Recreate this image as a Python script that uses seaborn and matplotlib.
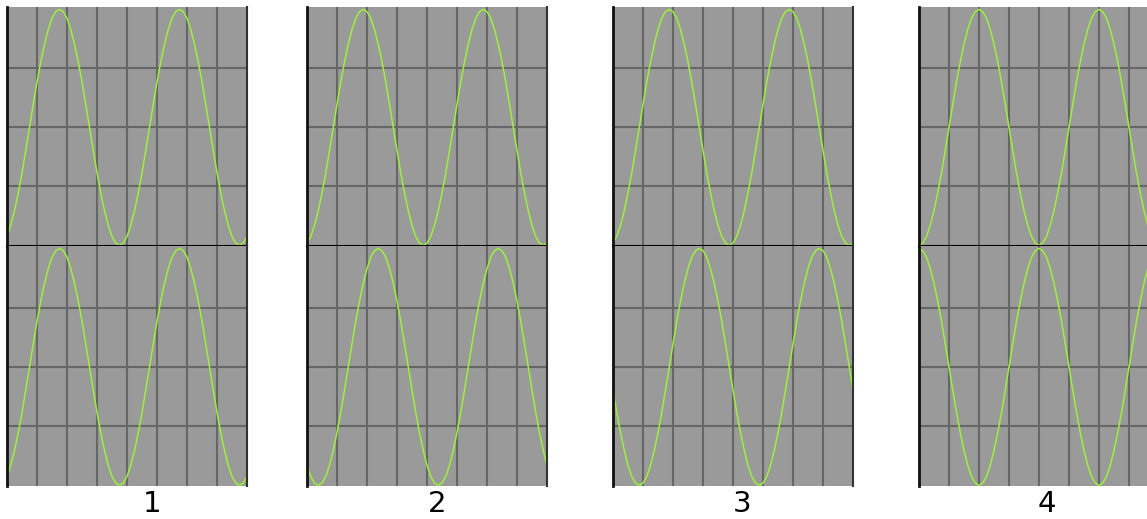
import numpy as np
import matplotlib
matplotlib.use("Agg")
import matplotlib.pyplot as plt
import seaborn as sns

# sample positions along each strip, in grid cells (8 cells wide)
x_pos = np.linspace(0, 8, 65)

# reference wave (upper strip) of each panel, in grid rows (0..4)
top_wave_1 = [0.15, 0.34, 0.59, 0.89, 1.23, 1.61, 2.0, 2.39, 2.77, 3.11, 3.41, 3.66, 3.85, 3.96,
              4.0, 3.96, 3.85, 3.66, 3.41, 3.11, 2.77, 2.39, 2.0, 1.61, 1.23, 0.89, 0.59, 0.34, 0.15, 0.04,
              0, 0.04, 0.15, 0.34, 0.59, 0.89, 1.23, 1.61, 2.0, 2.39, 2.77, 3.11, 3.41, 3.66, 3.85, 3.96,
              4.0, 3.96, 3.85, 3.66, 3.41, 3.11, 2.77, 2.39, 2.0, 1.61, 1.23, 0.89, 0.59, 0.34, 0.15, 0.04,
              0, 0.04, 0.15]
top_wave_2 = [0.04, 0.15, 0.34, 0.59, 0.89, 1.23, 1.61, 2.0, 2.39, 2.77, 3.11, 3.41, 3.66, 3.85, 3.96,
              4.0, 3.96, 3.85, 3.66, 3.41, 3.11, 2.77, 2.39, 2.0, 1.61, 1.23, 0.89, 0.59, 0.34, 0.15, 0.04,
              0, 0.04, 0.15, 0.34, 0.59, 0.89, 1.23, 1.61, 2.0, 2.39, 2.77, 3.11, 3.41, 3.66, 3.85, 3.96,
              4.0, 3.96, 3.85, 3.66, 3.41, 3.11, 2.77, 2.39, 2.0, 1.61, 1.23, 0.89, 0.59, 0.34, 0.15, 0.04,
              0, 0.04]
top_wave_3 = [0.04, 0.15, 0.34, 0.59, 0.89, 1.23, 1.61, 2.0, 2.39, 2.77, 3.11, 3.41, 3.66, 3.85, 3.96,
              4.0, 3.96, 3.85, 3.66, 3.41, 3.11, 2.77, 2.39, 2.0, 1.61, 1.23, 0.89, 0.59, 0.34, 0.15, 0.04,
              0, 0.04, 0.15, 0.34, 0.59, 0.89, 1.23, 1.61, 2.0, 2.39, 2.77, 3.11, 3.41, 3.66, 3.85, 3.96,
              4.0, 3.96, 3.85, 3.66, 3.41, 3.11, 2.77, 2.39, 2.0, 1.61, 1.23, 0.89, 0.59, 0.34, 0.15, 0.04,
              0, 0.04]
top_wave_4 = [0, 0.04, 0.15, 0.34, 0.59, 0.89, 1.23, 1.61, 2.0, 2.39, 2.77, 3.11, 3.41, 3.66, 3.85, 3.96,
              4.0, 3.96, 3.85, 3.66, 3.41, 3.11, 2.77, 2.39, 2.0, 1.61, 1.23, 0.89, 0.59, 0.34, 0.15, 0.04,
              0, 0.04, 0.15, 0.34, 0.59, 0.89, 1.23, 1.61, 2.0, 2.39, 2.77, 3.11, 3.41, 3.66, 3.85, 3.96,
              4.0, 3.96, 3.85, 3.66, 3.41, 3.11, 2.77, 2.39, 2.0, 1.61, 1.23, 0.89, 0.59, 0.34, 0.15, 0.04,
              0]

# shifted wave (lower strip) of each panel
bottom_wave_1 = [0.15, 0.34, 0.59, 0.89, 1.23, 1.61, 2.0, 2.39, 2.77, 3.11, 3.41, 3.66, 3.85, 3.96,
                 4.0, 3.96, 3.85, 3.66, 3.41, 3.11, 2.77, 2.39, 2.0, 1.61, 1.23, 0.89, 0.59, 0.34, 0.15, 0.04,
                 0, 0.04, 0.15, 0.34, 0.59, 0.89, 1.23, 1.61, 2.0, 2.39, 2.77, 3.11, 3.41, 3.66, 3.85, 3.96,
                 4.0, 3.96, 3.85, 3.66, 3.41, 3.11, 2.77, 2.39, 2.0, 1.61, 1.23, 0.89, 0.59, 0.34, 0.15, 0.04,
                 0, 0.04, 0.15]
bottom_wave_2 = [0.34, 0.15, 0.04,
                 0, 0.04, 0.15, 0.34, 0.59, 0.89, 1.23, 1.61, 2.0, 2.39, 2.77, 3.11, 3.41, 3.66, 3.85, 3.96,
                 4.0, 3.96, 3.85, 3.66, 3.41, 3.11, 2.77, 2.39, 2.0, 1.61, 1.23, 0.89, 0.59, 0.34, 0.15, 0.04,
                 0, 0.04, 0.15, 0.34, 0.59, 0.89, 1.23, 1.61, 2.0, 2.39, 2.77, 3.11, 3.41, 3.66, 3.85, 3.96,
                 4.0, 3.96, 3.85, 3.66, 3.41, 3.11, 2.77, 2.39, 2.0, 1.61, 1.23, 0.89, 0.59, 0.34]
bottom_wave_3 = [1.61, 1.23, 0.89, 0.59, 0.34, 0.15, 0.04,
                 0, 0.04, 0.15, 0.34, 0.59, 0.89, 1.23, 1.61, 2.0, 2.39, 2.77, 3.11, 3.41, 3.66, 3.85, 3.96,
                 4.0, 3.96, 3.85, 3.66, 3.41, 3.11, 2.77, 2.39, 2.0, 1.61, 1.23, 0.89, 0.59, 0.34, 0.15, 0.04,
                 0, 0.04, 0.15, 0.34, 0.59, 0.89, 1.23, 1.61, 2.0, 2.39, 2.77, 3.11, 3.41, 3.66, 3.85, 3.96,
                 4.0, 3.96, 3.85, 3.66, 3.41, 3.11, 2.77, 2.39, 2.0, 1.61]
bottom_wave_4 = [4.0, 3.96, 3.85, 3.66, 3.41, 3.11, 2.77, 2.39, 2.0, 1.61, 1.23, 0.89, 0.59, 0.34, 0.15, 0.04,
                 0, 0.04, 0.15, 0.34, 0.59, 0.89, 1.23, 1.61, 2.0, 2.39, 2.77, 3.11, 3.41, 3.66, 3.85, 3.96,
                 4.0, 3.96, 3.85, 3.66, 3.41, 3.11, 2.77, 2.39, 2.0, 1.61, 1.23, 0.89, 0.59, 0.34, 0.15, 0.04,
                 0, 0.04, 0.15, 0.34, 0.59, 0.89, 1.23, 1.61, 2.0, 2.39, 2.77, 3.11, 3.41, 3.66, 3.85, 3.96,
                 4.0]

panel_labels = ["1", "2", "3", "4"]

sns.set_style("dark")
plt.rcParams['font.family'] = ['DejaVu Sans']

W, H = 1147, 519
fig = plt.figure(figsize=(W / 100, H / 100), dpi=100)
fig.patch.set_facecolor("white")

panel_left = [7, 307, 613, 919]
label_x = [152, 437, 742, 1047]
wave_color = "#9cf03c"
grid_color = "#666666"


def style_axis(ax, is_top):
    ax.set_facecolor("#9a9a9a")
    ax.set_xlim(0, 8)
    ax.set_ylim(-0.01, 4.04)
    ax.set_xticks(range(1, 8))
    ax.set_yticks([1, 2, 3])
    ax.grid(True, color=grid_color, linewidth=1.5)
    ax.set_axisbelow(True)
    ax.tick_params(length=0, labelbottom=False, labelleft=False)
    ax.set_xlabel("")
    ax.set_ylabel("")
    ax.spines["top"].set_visible(False)
    ax.spines["left"].set_color("#111111")
    ax.spines["left"].set_linewidth(2.0)
    ax.spines["right"].set_color("#333333")
    ax.spines["right"].set_linewidth(1.5)
    if is_top:
        ax.spines["bottom"].set_color("black")
        ax.spines["bottom"].set_linewidth(1.5)
    else:
        ax.spines["bottom"].set_visible(False)


tops = [top_wave_1, top_wave_2, top_wave_3, top_wave_4]
bottoms = [bottom_wave_1, bottom_wave_2, bottom_wave_3, bottom_wave_4]

for i in range(4):
    left = panel_left[i] / W
    width = 240 / W
    ax_top = fig.add_axes([left, 1 - 246 / H, width, 239 / H])
    ax_bot = fig.add_axes([left, 1 - 486 / H, width, 240 / H])

    sns.lineplot(x=x_pos, y=tops[i], ax=ax_top, color=wave_color, linewidth=1.1)
    sns.lineplot(x=x_pos, y=bottoms[i], ax=ax_bot, color=wave_color, linewidth=1.1)

    style_axis(ax_top, True)
    style_axis(ax_bot, False)

    fig.text(label_x[i] / W, 1 - 504 / H, panel_labels[i], ha="center", va="center",
             fontsize=21, color="black")

fig.savefig("out.png", dpi=100)
